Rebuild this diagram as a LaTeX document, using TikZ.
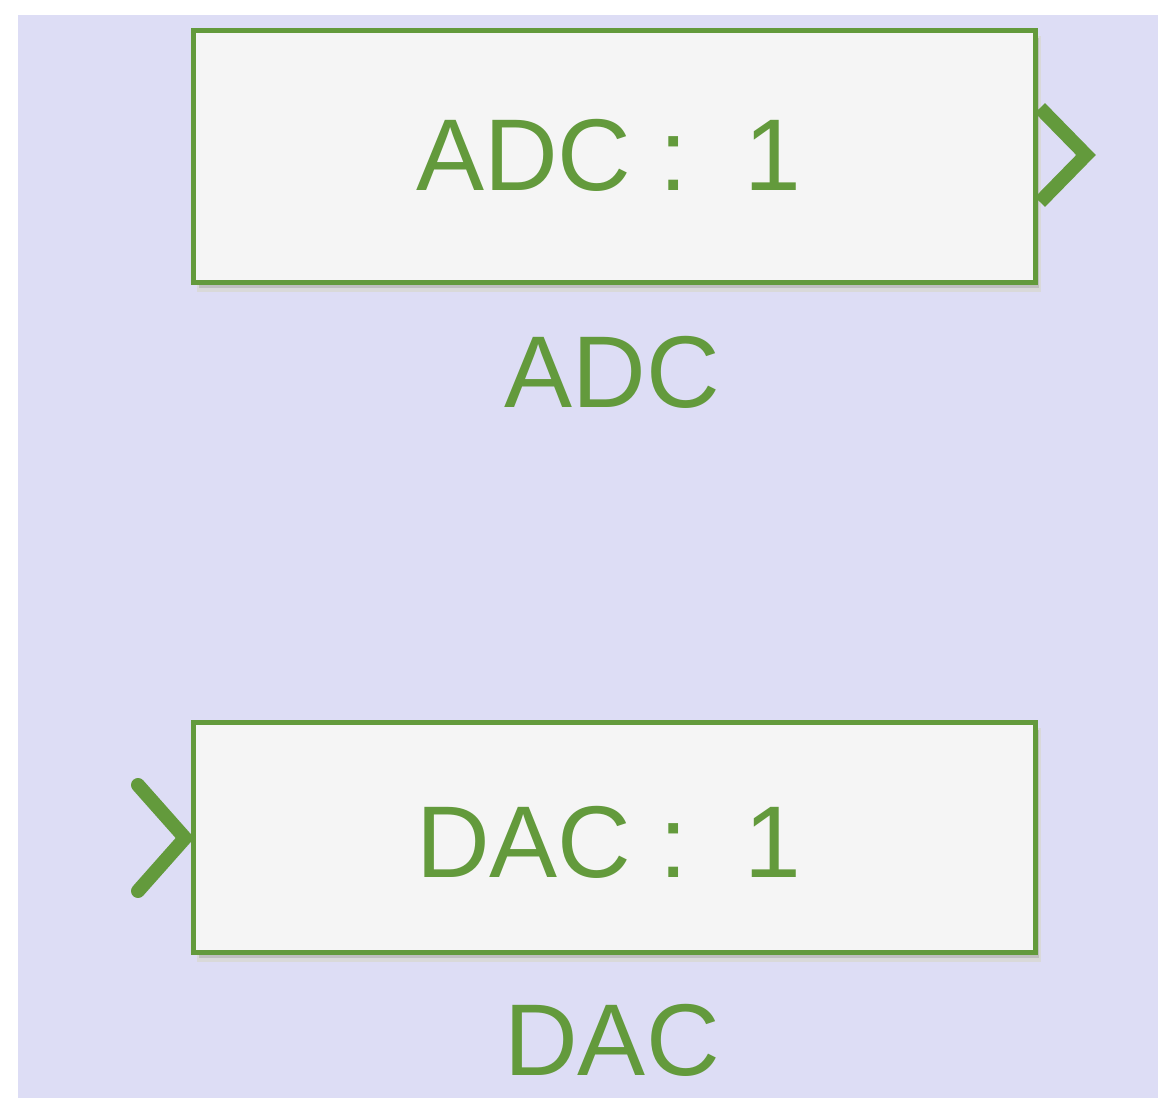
\documentclass[tikz,border=0pt]{standalone}
\usepackage{fontspec}
\setmainfont{Liberation Sans}
\definecolor{gr}{HTML}{639A3C}
\definecolor{bg}{HTML}{DDDDF5}
\definecolor{bx}{HTML}{F5F5F5}
\begin{document}
\begin{tikzpicture}[x=1pt,y=-1pt,
  blk/.style={draw=gr,line width=5pt,fill=bx},
  txt/.style={text=gr,font=\fontsize{102}{104}\selectfont,inner sep=0pt},
  port/.style={draw=gr,line width=14pt,line cap=round,line join=miter}]
\useasboundingbox (0,0) rectangle (1176,1114);
\fill[white] (0,0) rectangle (1176,1114);
\fill[bg] (18,15) rectangle (1158,1098);
% shadows
\fill[black!15] (197,36) rectangle (1041,292);
\fill[black!25] (199,38) rectangle (1039,288);
\fill[black!15] (197,728) rectangle (1041,962);
\fill[black!25] (199,730) rectangle (1039,958);
\draw[blk] (193,30) rectangle (1035,282);
\draw[blk] (193,722) rectangle (1035,952);
\node[txt] (adc) at (609,155) {ADC :\ \ 1};
\node[txt] (adcl) at (612,372) {ADC};
\node[txt] (dac) at (609,842) {DAC :\ \ 1};
\node[txt] (dacl) at (612,1040) {DAC};
\coordinate (o1) at (1040,108);
\coordinate (o2) at (1086,155);
\coordinate (o3) at (1040,202);
\draw[port,line cap=butt] (o1) -- (o2) -- (o3);
\coordinate (i1) at (138,785);
\coordinate (i2) at (185,838);
\coordinate (i3) at (138,891);
\draw[port] (i1) -- (i2) -- (i3);
\end{tikzpicture}
\end{document}
